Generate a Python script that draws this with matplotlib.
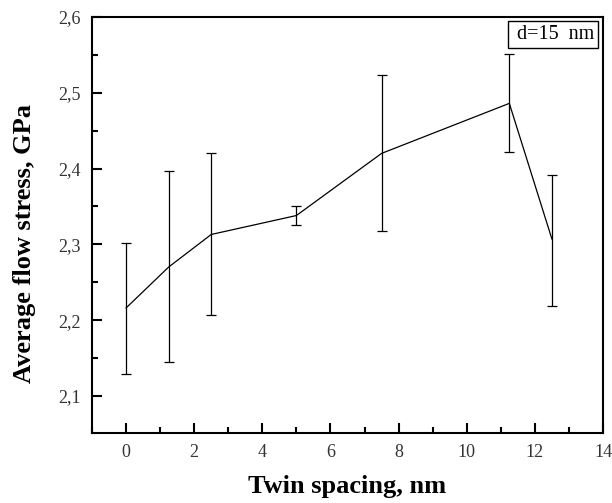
import matplotlib
matplotlib.use('Agg')
import matplotlib.pyplot as plt
from matplotlib.ticker import MultipleLocator, FuncFormatter
import numpy as np

# twin spacing vs average flow stress, d = 15 nm
spacing = [0, 1.25, 2.5, 5, 7.5, 11.25, 12.5]
stress = [2.216, 2.270, 2.313, 2.338, 2.420, 2.486, 2.307]
err_low = [0.087, 0.125, 0.106, 0.013, 0.103, 0.064, 0.088]
err_high = [0.086, 0.127, 0.107, 0.013, 0.103, 0.065, 0.084]

plt.rcParams['font.family'] = ['Liberation Serif', 'DejaVu Serif']

fig = plt.figure(figsize=(6.12, 5.03), dpi=100)
ax = fig.add_axes([92 / 612, 1 - 433 / 503, 511 / 612, 416 / 503])

ax.errorbar(spacing, stress, yerr=[err_low, err_high], color='black', lw=0.9,
            elinewidth=0.9, capsize=3.5, capthick=0.9)

ax.set_xlim(-1, 14)
ax.set_ylim(2.051, 2.6)
ax.xaxis.set_major_locator(MultipleLocator(2))
ax.xaxis.set_minor_locator(MultipleLocator(1))
ax.yaxis.set_major_locator(MultipleLocator(0.1))
ax.yaxis.set_minor_locator(MultipleLocator(0.05))
ax.yaxis.set_major_formatter(FuncFormatter(lambda v, p: f'{v:.1f}'.replace('.', ',')))

ax.tick_params(which='both', direction='in', top=False, right=False, labelsize=13,
               labelcolor='#333333', width=1.5)
ax.tick_params(which='major', length=7, pad=8)
ax.tick_params(which='minor', length=4)
for s in ax.spines.values():
    s.set_linewidth(1.5)

ax.set_xlabel('Twin spacing, nm', fontsize=19, fontweight='bold', labelpad=10)
ax.set_ylabel('Average flow stress, GPa', fontsize=19, fontweight='bold')
ax.yaxis.set_label_coords(-0.11, 0.455)

ax.text(0.982, 0.98, ' d=15  nm', transform=ax.transAxes, ha='right', va='top', fontsize=14.5,
        bbox=dict(boxstyle='square,pad=0.2', fc='white', ec='black', lw=1.0))

fig.savefig('out.png', dpi=100)
